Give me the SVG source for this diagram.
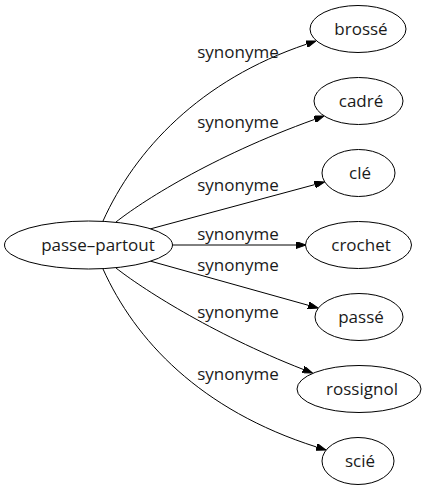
<svg xmlns="http://www.w3.org/2000/svg" width="426" height="491" viewBox="0 0 426 491">
<style>
  .node ellipse { fill: #ffffff; stroke: #000000; stroke-width: 1; }
  .node text { font-family: "Open Sans", "DejaVu Sans", sans-serif; font-size: 17px; fill: #1a1a1a; text-anchor: middle; }
  .edges path { fill: none; stroke: #000000; stroke-width: 1; marker-end: url(#arrow); }
  .edges text { font-family: "Open Sans", "DejaVu Sans", sans-serif; font-size: 17px; fill: #1a1a1a; text-anchor: middle; }
</style>
<defs>
  <marker id="arrow" viewBox="0 0 10 7" refX="0" refY="3.5" markerWidth="10" markerHeight="7" markerUnits="userSpaceOnUse" orient="auto">
    <path d="M0,0 L10,3.5 L0,7 z" fill="#000000" stroke="#000000" stroke-width="1"/>
  </marker>
</defs>
<rect x="0" y="0" width="426" height="491" fill="#ffffff"/>
<g id="edges" class="edges">
  <path d="M103,221 C135,150 200,80 306.5,44.2"/>
  <text x="238" y="58">synonyme</text>
  <path d="M116,222 C140,203 210,157 314.6,119.4"/>
  <text x="238" y="128">synonyme</text>
  <path d="M150,229 L314.8,184.6"/>
  <text x="238" y="191">synonyme</text>
  <path d="M172,245 L296,245"/>
  <text x="238" y="240">synonyme</text>
  <path d="M150,261 L308.4,305.3"/>
  <text x="238" y="271">synonyme</text>
  <path d="M116,268 C140,287 210,333 303.2,369.4"/>
  <text x="238" y="318">synonyme</text>
  <path d="M103,269 C135,340 200,410 316.5,447"/>
  <text x="238" y="380">synonyme</text>
</g>
<g id="node-passe-partout" class="node">
  <ellipse cx="88.5" cy="245" rx="84" ry="24"/>
  <text x="98" y="251">passe–partout</text>
</g>
<g id="node-brosse" class="node">
  <ellipse cx="358" cy="29" rx="48" ry="23.5"/>
  <text x="361" y="35">brossé</text>
</g>
<g id="node-cadre" class="node">
  <ellipse cx="358.5" cy="101" rx="44.5" ry="23.5"/>
  <text x="361" y="107">cadré</text>
</g>
<g id="node-cle" class="node">
  <ellipse cx="358.5" cy="173" rx="36.5" ry="23.5"/>
  <text x="360" y="179">clé</text>
</g>
<g id="node-crochet" class="node">
  <ellipse cx="358.5" cy="245" rx="53" ry="23.5"/>
  <text x="361" y="251">crochet</text>
</g>
<g id="node-passe" class="node">
  <ellipse cx="359" cy="317" rx="44" ry="23.5"/>
  <text x="361" y="323">passé</text>
</g>
<g id="node-rossignol" class="node">
  <ellipse cx="359" cy="389" rx="62" ry="23.5"/>
  <text x="362" y="395">rossignol</text>
</g>
<g id="node-scie" class="node">
  <ellipse cx="358" cy="461" rx="36" ry="23.5"/>
  <text x="360" y="467">scié</text>
</g>
</svg>
